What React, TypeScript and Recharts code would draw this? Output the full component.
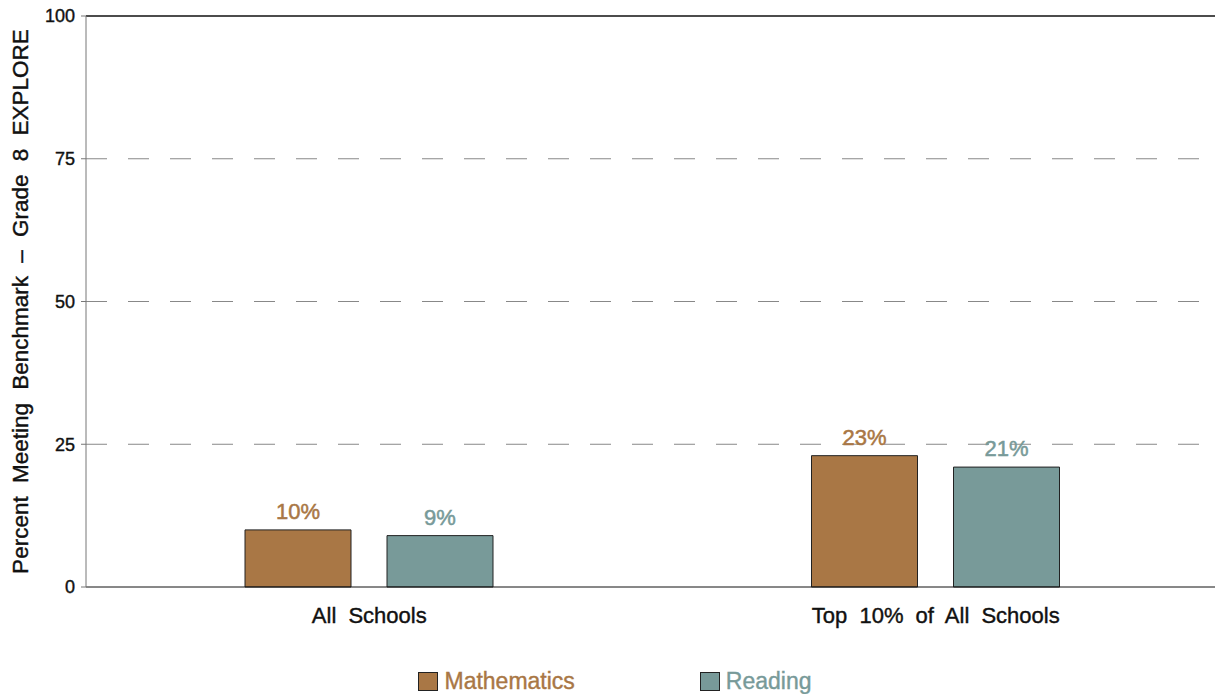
import { Bar, BarChart, LabelList, Legend, ReferenceLine, XAxis, YAxis } from "recharts";

const categories = ["All Schools", "Top 10% of All Schools"];
const mathematics = [10, 23];
const reading = [9, 21];
const yTicks = [0, 25, 50, 75, 100];
const gridValues = [25, 50, 75];

const MATH = "#A97745";
const READ = "#789A99";
const FONT = "'Liberation Sans', Arial, Helvetica, sans-serif";

const data = categories.map((name, i) => ({
  name,
  mathematics: mathematics[i],
  reading: reading[i],
}));

const series = [
  { key: "mathematics", label: "Mathematics", color: MATH },
  { key: "reading", label: "Reading", color: READ },
];

function LegendContent() {
  return (
    <div
      style={{
        display: "flex",
        justifyContent: "center",
        gap: 125,
        paddingLeft: 15,
        fontFamily: FONT,
        fontSize: 23,
        height: 28,
      }}
    >
      {series.map((s) => (
        <div key={s.key} style={{ display: "flex", alignItems: "center", gap: 6 }}>
          <span
            style={{
              display: "inline-block",
              width: 18,
              height: 17,
              background: s.color,
              border: "1px solid #222",
            }}
          />
          <span style={{ color: s.color, WebkitTextStroke: `0.4px ${s.color}` }}>{s.label}</span>
        </div>
      ))}
    </div>
  );
}

function YLabel() {
  return (
    <text
      x={20}
      y={301.5}
      transform="rotate(-90 20 301.5)"
      textAnchor="middle"
      dominantBaseline="central"
      fontFamily={FONT}
      fontSize={22.5}
      wordSpacing={7}
      fill="#111"
      stroke="#111"
      strokeWidth={0.4}
    >
      Percent Meeting Benchmark – Grade 8 EXPLORE
    </text>
  );
}

export default function App() {
  return (
    <div style={{ position: "absolute", left: 0, top: 0, width: 1215, height: 694, background: "#fff", overflow: "hidden" }}>
      <BarChart
        width={1215}
        height={694}
        data={data}
        margin={{ top: 16, right: -4, left: 0, bottom: 19 }}
        barSize={106}
        barGap={36}
        style={{ fontFamily: FONT }}
      >
        <XAxis
          dataKey="name"
          axisLine={{ stroke: "#111" }}
          tickLine={false}
          tick={{ fill: "#111", fontSize: 22, fontFamily: FONT, wordSpacing: 6, stroke: "#111", strokeWidth: 0.4 }}
          tickMargin={14}
          height={60}
        />
        <YAxis
          domain={[0, 100]}
          ticks={yTicks}
          width={86}
          axisLine={{ stroke: "#777" }}
          tickLine={{ stroke: "#777" }}
          tickSize={5}
          tick={{ fill: "#111", fontSize: 18, fontFamily: FONT, stroke: "#111", strokeWidth: 0.4 }}
          tickMargin={6}
          label={<YLabel />}
        />
        {gridValues.map((v) => (
          <ReferenceLine key={v} y={v} stroke="#888" strokeDasharray="21 21" />
        ))}
        <ReferenceLine y={100} stroke="#111" strokeWidth={1.5} />
        <Legend
          content={<LegendContent />}
          wrapperStyle={{ position: "absolute", top: 667, left: 0, width: 1215 }}
        />
        {series.map((s) => (
          <Bar
            key={s.key}
            dataKey={s.key}
            name={s.label}
            fill={s.color}
            stroke="#222"
            strokeWidth={1}
            isAnimationActive={false}
          >
            <LabelList
              dataKey={s.key}
              position="top"
              offset={11}
              formatter={(v: number) => `${v}%`}
              fill={s.color}
              stroke={s.color}
              strokeWidth={0.5}
              fontSize={22}
              fontFamily={FONT}
            />
          </Bar>
        ))}
      </BarChart>
    </div>
  );
}
